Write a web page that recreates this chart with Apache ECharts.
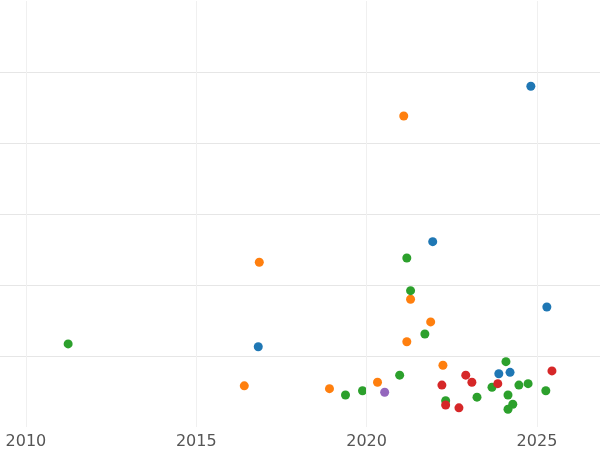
<!DOCTYPE html>
<html>
<head>
<meta charset="utf-8">
<script src="https://cdn.jsdelivr.net/npm/echarts@6/dist/echarts.min.js"></script>
<style>html,body{margin:0;padding:0;background:#fff}#chart{width:600px;height:450px}</style>
</head>
<body>
<div id="chart"></div>
<script>
var xTicks = [2010, 2015, 2020, 2025];
var blue = [[2024.82,4.80],[2021.94,2.61],[2025.29,1.69],[2016.82,1.13],[2023.88,0.75],[2024.21,0.77]];
var orange = [[2021.09,4.38],[2016.85,2.32],[2021.29,1.80],[2021.88,1.48],[2021.18,1.20],[2022.24,0.87],[2020.32,0.63],[2016.41,0.58],[2018.91,0.54]];
var green = [[2011.24,1.17],[2021.18,2.38],[2021.29,1.92],[2021.71,1.31],[2020.97,0.73],[2019.88,0.51],[2019.38,0.45],[2024.09,0.92],[2024.74,0.61],[2024.47,0.59],[2023.68,0.56],[2025.26,0.51],[2023.24,0.42],[2022.32,0.37],[2024.15,0.45],[2024.29,0.32],[2024.15,0.25]];
var red = [[2022.91,0.73],[2023.09,0.63],[2022.21,0.59],[2023.85,0.61],[2025.44,0.79],[2022.32,0.31],[2022.71,0.27]];
var purple = [[2020.53,0.49]];

var myChart = echarts.init(document.getElementById('chart'));

function mk(data, color) {
    return { type: 'scatter', data: data, symbolSize: 9, itemStyle: { color: color, opacity: 1 } };
}

var option = {
    animation: false,
    grid: { left: 0, right: 0, top: 1, bottom: 23 },
    xAxis: {
        type: 'value',
        min: 2009.24,
        max: 2026.85,
        axisLine: { show: false },
        axisTick: { show: false },
        splitLine: { show: false },
        axisLabel: { show: false }
    },
    yAxis: {
        type: 'value',
        min: 0,
        max: 6,
        interval: 1,
        axisLine: { show: false },
        axisTick: { show: false },
        axisLabel: { show: false },
        splitLine: { showMinLine: false, showMaxLine: false, lineStyle: { color: '#e6e6e6' } }
    },
    series: [
        mk(blue, '#1f77b4'),
        mk(orange, '#ff7f0e'),
        mk(green, '#2ca02c'),
        mk(red, '#d62728'),
        mk(purple, '#9467bd'),
        {
            type: 'line',
            data: [],
            markLine: {
                silent: true,
                symbol: 'none',
                label: { show: true, position: 'start', color: '#555', fontSize: 16, fontFamily: 'DejaVu Sans', distance: 7, formatter: function (p) { return p.value; } },
                lineStyle: { color: '#f0f0f0', type: 'solid', width: 1 },
                data: xTicks.map(function (t) { return { xAxis: t }; })
            }
        }
    ]
};

myChart.setOption(option);
</script>
</body>
</html>
